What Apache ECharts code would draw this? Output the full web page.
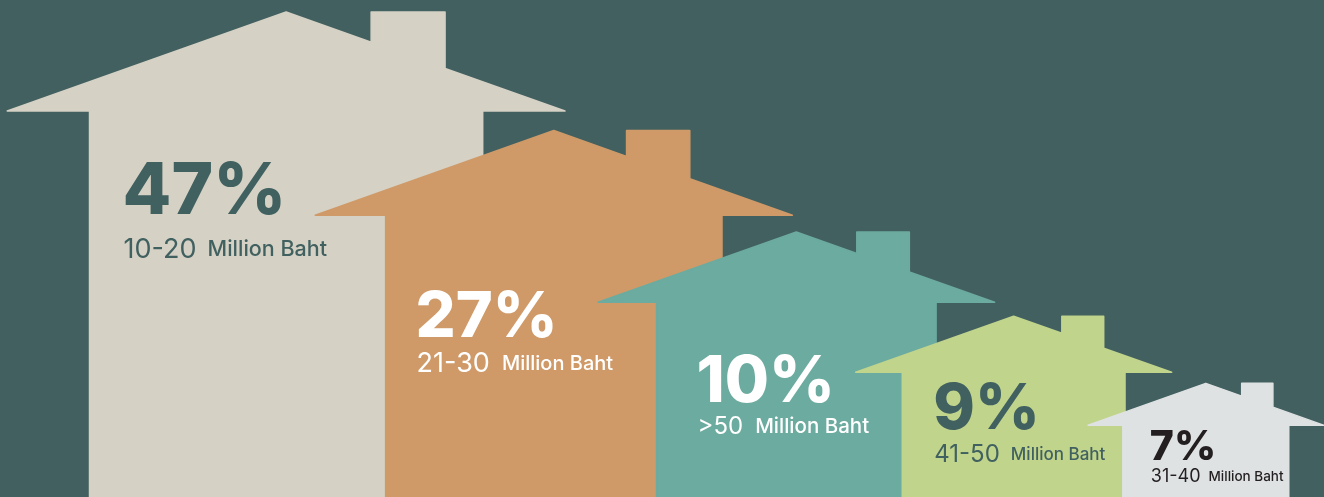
<!DOCTYPE html>
<html>
<head>
<meta charset="utf-8">
<script src="https://cdn.jsdelivr.net/npm/echarts@6/dist/echarts.min.js"></script>
<style>
  html, body { margin: 0; padding: 0; background: #436060; }
  #chart { width: 1324px; height: 497px; }
</style>
</head>
<body>
<div id="chart"></div>
<script>
// Share of buyers by price band (million baht), largest share first
const priceBands = ['10-20', '21-30', '>50', '41-50', '31-40'];
const shares = [47, 27, 10, 9, 7];
const unitLabel = 'Million Baht';

// Colours for each band
const houseColors = ['#d5d1c5', '#cf9a68', '#6cab9f', '#c0d48c', '#dfe2e3'];
const textColors = ['#416160', '#ffffff', '#ffffff', '#416160', '#231f20'];

// Label typography per tier: font sizes, gap before the unit, offset from
// the house wall (dx) and baselines measured down from the eaves (dy, dySub)
const tierLabels = [
  { pct: 71, range: 27, unit: 21.5, gap: 11, dx: 33, dy: 103, dySub: 147 },
  { pct: 63, range: 27, unit: 20, gap: 12, dx: 30, dy: 122, dySub: 157 },
  { pct: 64, range: 24, unit: 20.5, gap: 12, dx: 40, dy: 100, dySub: 132 },
  { pct: 63, range: 24, unit: 17, gap: 11, dx: 31, dy: 57, dySub: 90 },
  { pct: 41, range: 18, unit: 13.5, gap: 8, dx: 27, dy: 35, dySub: 57 }
];

// Rank of each band by share (0 = largest)
const order = shares.map((v, i) => i).sort((a, b) => shares[b] - shares[a]);
const rankOf = [];
order.forEach((bandIdx, r) => { rankOf[bandIdx] = r; });

// Houses recede in tiers: each smaller house sits to the right of and
// below the previous one. Units are the half roof span of the largest house.
const SPAN_STEP = 0.1445;
function tierSpan(rank) { return 1 - SPAN_STEP * rank; }
function tierPeak(rank) {
  let x = 0, y = 0;
  for (let k = 0; k < rank; k++) {
    x += 0.335 + 0.625 * tierSpan(k);
    y -= 0.425 * tierSpan(k);
  }
  return [x, y];
}

const seriesData = priceBands.map((band, i) => {
  const p = tierPeak(rankOf[i]);
  return [p[0], p[1], shares[i], rankOf[i]];
});

const FONT = 'Inter, Lato, "Noto Sans", sans-serif';

function renderHouse(params, api) {
  const i = params.dataIndex;
  const r = api.value(3);
  const peak = api.coord([api.value(0), api.value(1)]);
  const unit = api.size([1, 0])[0];
  const w = tierSpan(r) * unit;                 // half span of the roof
  const roofH = w * 0.355;
  const wall = w * 0.705;                        // half width of the walls
  const px = peak[0], py = peak[1];
  const eave = py + roofH;
  const bottom = api.getHeight() + 4;
  const c1 = px + w * 0.305, c2 = px + w * 0.57;  // chimney sides

  const pts = [
    [px, py],
    [c1, py + roofH * 0.305],
    [c1, py],
    [c2, py],
    [c2, py + roofH * 0.57],
    [px + w, eave],
    [px + wall, eave],
    [px + wall, bottom],
    [px - wall, bottom],
    [px - wall, eave],
    [px - w, eave]
  ];

  const lab = tierLabels[r];
  const tx = px - wall + lab.dx;
  const color = houseColors[i];
  const tcol = textColors[i];

  return {
    type: 'group',
    children: [
      {
        type: 'polygon',
        shape: { points: pts },
        style: { fill: color, stroke: color, lineWidth: 1.5, lineJoin: 'round' }
      },
      {
        type: 'text',
        x: tx,
        y: eave + lab.dy + lab.pct * 0.2,
        style: {
          text: api.value(2) + '%',
          fill: tcol,
          font: '800 ' + lab.pct + 'px ' + FONT,
          align: 'left',
          verticalAlign: 'bottom'
        }
      },
      {
        type: 'text',
        x: tx + 1,
        y: eave + lab.dySub + lab.range * 0.2,
        style: {
          text: '{r|' + priceBands[i] + '}{u|' + unitLabel + '}',
          fill: tcol,
          align: 'left',
          verticalAlign: 'bottom',
          rich: {
            r: { fontSize: lab.range, fontWeight: 400, fontFamily: FONT, fill: tcol },
            u: { fontSize: lab.unit, fontWeight: 500, fontFamily: FONT, fill: tcol, padding: [0, 0, 0, lab.gap] }
          }
        }
      }
    ]
  };
}

const chart = echarts.init(document.getElementById('chart'), null, { renderer: 'canvas' });
chart.setOption({
  backgroundColor: '#436060',
  animation: false,
  grid: { left: 0, right: 0, top: 0, bottom: 0 },
  xAxis: { type: 'value', min: -1.026, max: 3.722, show: false },
  yAxis: { type: 'value', min: -1.739, max: 0.043, show: false },
  series: [{
    type: 'custom',
    renderItem: renderHouse,
    clip: false,
    encode: { x: 0, y: 1 },
    data: seriesData
  }]
});
</script>
</body>
</html>
